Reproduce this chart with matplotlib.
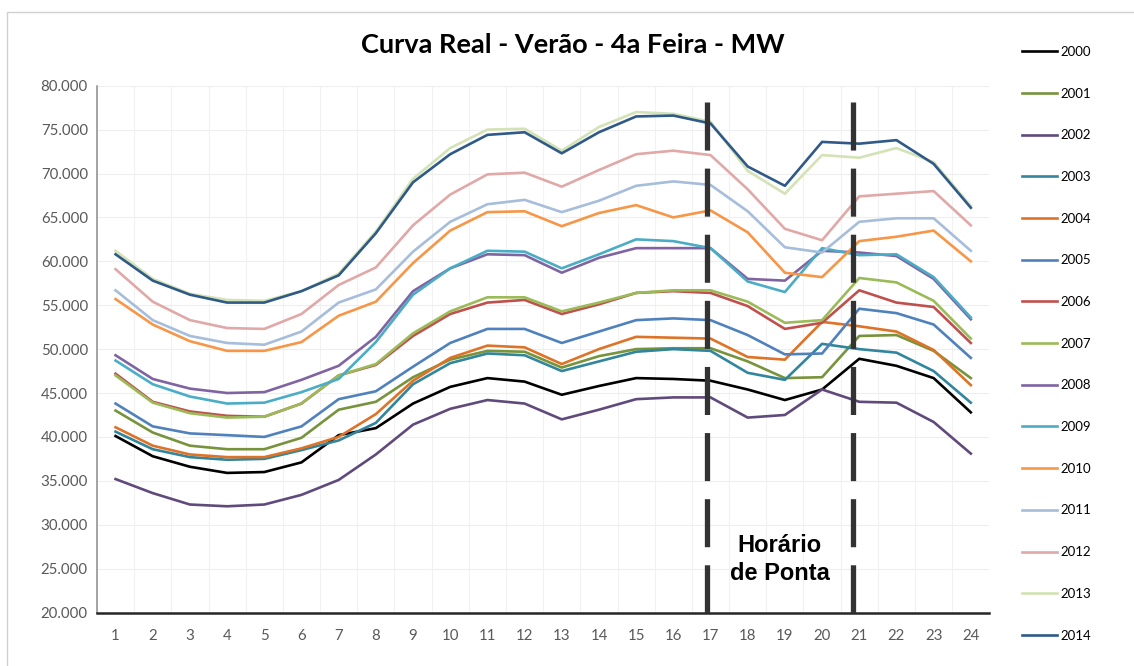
import numpy as np
import matplotlib.pyplot as plt
from matplotlib.patches import Rectangle
from matplotlib.ticker import FuncFormatter

plt.rcParams['lines.scale_dashes'] = False

# hours of the day
hours = list(range(1, 25))

# load in MW
mw_2000 = [40100, 37800, 36600, 35900, 36000, 37100, 40200, 41000, 43800, 45700, 46700, 46300,
           44800, 45800, 46700, 46600, 46400, 45400, 44200, 45400, 48900, 48100, 46700, 42800]
mw_2001 = [43000, 40500, 39000, 38600, 38600, 39900, 43100, 44000, 46800, 48800, 49800, 49700,
           47900, 49200, 50000, 50100, 50100, 48600, 46700, 46800, 51500, 51600, 49800, 46700]
mw_2002 = [35200, 33600, 32300, 32100, 32300, 33400, 35100, 38000, 41400, 43200, 44200, 43800,
           42000, 43100, 44300, 44500, 44500, 42200, 42500, 45400, 44000, 43900, 41700, 38100]
mw_2003 = [40600, 38600, 37700, 37400, 37500, 38500, 39600, 41600, 46000, 48400, 49500, 49300,
           47500, 48600, 49700, 50000, 49800, 47300, 46500, 50600, 50000, 49600, 47500, 43900]
mw_2004 = [41100, 39000, 38000, 37700, 37700, 38700, 40000, 42600, 46400, 49000, 50400, 50200,
           48300, 50000, 51400, 51300, 51200, 49100, 48800, 53100, 52600, 52000, 49900, 45900]
mw_2005 = [43800, 41200, 40400, 40200, 40000, 41200, 44300, 45200, 48000, 50700, 52300, 52300,
           50700, 52000, 53300, 53500, 53300, 51600, 49400, 49500, 54600, 54100, 52800, 49000]
mw_2006 = [47200, 44000, 42900, 42400, 42300, 43800, 47000, 48200, 51500, 54000, 55300, 55600,
           54000, 55100, 56400, 56600, 56400, 54900, 52300, 53000, 56700, 55300, 54800, 50700]
mw_2007 = [47000, 43900, 42700, 42200, 42300, 43800, 47000, 48300, 51800, 54300, 55900, 55900,
           54300, 55300, 56400, 56700, 56700, 55400, 53000, 53300, 58100, 57600, 55500, 51200]
mw_2008 = [49300, 46600, 45500, 45000, 45100, 46500, 48100, 51400, 56600, 59200, 60800, 60700,
           58700, 60400, 61500, 61500, 61500, 58000, 57800, 61200, 61000, 60600, 58000, 53400]
mw_2009 = [48700, 46000, 44600, 43800, 43900, 45100, 46600, 50800, 56200, 59200, 61200, 61100,
           59200, 60800, 62500, 62300, 61500, 57700, 56500, 61500, 60700, 60800, 58200, 53600]
mw_2010 = [55700, 52800, 50900, 49800, 49800, 50800, 53800, 55400, 59800, 63500, 65600, 65700,
           64000, 65500, 66400, 65000, 65800, 63300, 58700, 58200, 62300, 62800, 63500, 60000]
mw_2011 = [56700, 53300, 51500, 50700, 50500, 52000, 55300, 56800, 61100, 64500, 66500, 67000,
           65600, 66900, 68600, 69100, 68700, 65700, 61600, 61000, 64500, 64900, 64900, 61200]
mw_2012 = [59100, 55400, 53300, 52400, 52300, 54000, 57300, 59300, 64100, 67600, 69900, 70100,
           68500, 70400, 72200, 72600, 72100, 68200, 63700, 62400, 67400, 67700, 68000, 64100]
mw_2013 = [61200, 58000, 56300, 55600, 55500, 56600, 58600, 63400, 69400, 72900, 75000, 75100,
           72600, 75300, 77000, 76800, 75900, 70300, 67700, 72100, 71800, 72900, 71300, 66300]
mw_2014 = [60800, 57800, 56200, 55300, 55300, 56600, 58400, 63200, 69000, 72200, 74400, 74700,
           72300, 74700, 76500, 76600, 75700, 70800, 68600, 73600, 73400, 73800, 71100, 66100]

years = ['2000', '2001', '2002', '2003', '2004', '2005', '2006', '2007',
         '2008', '2009', '2010', '2011', '2012', '2013', '2014']
series = [mw_2000, mw_2001, mw_2002, mw_2003, mw_2004, mw_2005, mw_2006, mw_2007,
          mw_2008, mw_2009, mw_2010, mw_2011, mw_2012, mw_2013, mw_2014]
colors = ['#000000', '#77933C', '#604A7B', '#31859C', '#DE7327', '#4F81BD', '#C0504D', '#9BBB59',
          '#8064A2', '#4BACC6', '#F79646', '#A6BDDB', '#E0A9A8', '#D3E3B5', '#2F5A88']

# peak hours window markers
peak_start = 16.9
peak_end = 20.83

fig = plt.figure(figsize=(11.34, 6.66), dpi=100)
ax = fig.add_axes([0.0855, 0.0803, 0.787, 0.791])

for name, vals, col in zip(years, series, colors):
    ax.plot(hours, vals, color=col, lw=1.9, label=name, solid_joinstyle='round')

# dashed peak-hour boundaries
for xv in (peak_start, peak_end):
    ax.plot([xv, xv], [78200, 20000], color='#333333', lw=3.8,
            dashes=(34.6, 13.0), solid_capstyle='butt', dash_capstyle='butt', zorder=5)

ax.text(18.86, 26050, 'Horário\nde Ponta', ha='center', va='center', fontsize=17,
        fontweight='bold', family='Liberation Sans', linespacing=1.32, color='black')

ax.set_xlim(0.5, 24.5)
ax.set_ylim(20000, 80000)
ax.set_yticks(np.arange(20000, 80001, 5000))
ax.yaxis.set_major_formatter(FuncFormatter(lambda v, p: f'{int(v):,}'.replace(',', '.')))
ax.set_xticks(hours)
ax.set_xticks(np.arange(0.5, 24.6, 1), minor=True)

ax.grid(axis='y', which='major', color='#eeeeee', lw=0.8)
ax.grid(axis='x', which='minor', color='#f2f2f2', lw=0.8)
ax.grid(axis='x', which='major', visible=False)
ax.set_axisbelow(True)

ax.tick_params(axis='both', which='both', length=0, labelsize=10.8, labelcolor='#595959')
ax.tick_params(axis='y', pad=6.5)
ax.tick_params(axis='x', pad=12)
for lab in ax.get_xticklabels() + ax.get_yticklabels():
    lab.set_family('Lato')

for s in ('top', 'right'):
    ax.spines[s].set_visible(False)
ax.spines['left'].set_color('#8c8c8c')
ax.spines['left'].set_linewidth(1.1)
ax.spines['bottom'].set_color('#262626')
ax.spines['bottom'].set_linewidth(1.8)

fig.text(0.505, 0.932, 'Curva Real - Verão - 4a Feira - MW', ha='center', va='center',
         fontsize=19.5, fontweight='bold', family='Lato')

leg = fig.legend(loc='upper left', bbox_to_anchor=(0.897, 0.939), frameon=False,
                 prop={'family': 'Lato', 'size': 9.5}, handlelength=2.6, handletextpad=0.3,
                 labelspacing=2.25, borderaxespad=0)

# light outer frame of the chart area
fig.add_artist(Rectangle((7 / 1134, -0.5), 2.0, 1.5 - 12 / 666, transform=fig.transFigure,
                         fill=False, edgecolor='#d0d0d0', lw=1.0))

fig.savefig('out.png', dpi=100)
